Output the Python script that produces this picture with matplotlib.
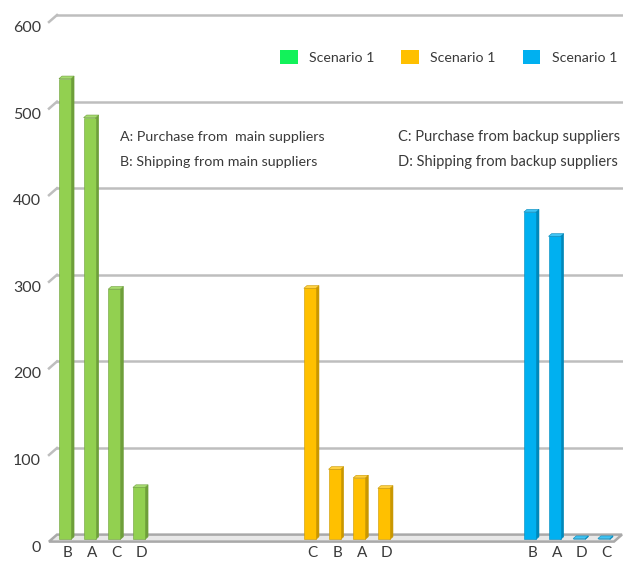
import matplotlib
matplotlib.use("Agg")
import matplotlib.pyplot as plt
from matplotlib.patches import Polygon, Patch
from matplotlib.transforms import ScaledTranslation

plt.rcParams["font.family"] = ["Lato", "DejaVu Sans"]

# data
green_labels = ["B", "A", "C", "D"]
green_values = [532, 487, 289, 60]
yellow_labels = ["C", "B", "A", "D"]
yellow_values = [290, 81, 71, 59]
blue_labels = ["B", "A", "D", "C"]
blue_values = [378, 350, 1, 1]
series_names = ["Scenario 1", "Scenario 1", "Scenario 1"]
y_ticks = [0, 100, 200, 300, 400, 500, 600]
notes_left = ["A: Purchase from  main suppliers", "B: Shipping from main suppliers"]
notes_right = ["C: Purchase from backup suppliers", "D: Shipping from backup suppliers"]

group_start = [0, 9.93, 18.85]
faces = [("#92D050", "#6E9F3A", "#A6DB70"),
         ("#FFC000", "#C99700", "#FFD040"),
         ("#00B0F0", "#0088BA", "#40C4F4")]
legend_colors = ["#12F25A", "#FFC000", "#00B0F0"]
text_color = "#3A3A3A"
grid_color = "#BEBEBE"

W, H, DPI = 623, 562, 100
fig = plt.figure(figsize=(W / DPI, H / DPI), dpi=DPI)
# axes = back wall of the 3d chart
left, right, bottom, top = 57, 622, 534.6, 15
ax = fig.add_axes([left / W, 1 - bottom / H, (right - left) / W, (bottom - top) / H])
x0, x1 = -0.547, 22.36
ax.set_xlim(x0, x1)
ax.set_ylim(0, 600)
ax.axis("off")

# pixel -> data units
px_x = (x1 - x0) / (right - left)
px_y = 600 / (bottom - top)
FX, FY = -8, -7  # depth vector back -> front, pixels


def sh(x, y, t):
    return (x + t * FX * px_x, y + t * FY * px_y)


def off(dx, dy):
    return ax.transData + ScaledTranslation(dx / DPI, dy / DPI, fig.dpi_scale_trans)


# floor
floor = [sh(x0, 0, 0), sh(x1, 0, 0), sh(x1, 0, 1), sh(x0, 0, 1)]
ax.add_patch(Polygon(floor, closed=True, facecolor="#E8E8E8", edgecolor="#A9A9A9",
                     lw=1.8, clip_on=False, zorder=1))

# gridlines + stubs
for v in y_ticks:
    if v > 0:
        ax.plot([x0, x1], [v, v], color=grid_color, lw=1.8, clip_on=False, zorder=1)
        p = sh(x0, v, 1)
        ax.plot([p[0], x0], [p[1], v], color=grid_color, lw=1.8, clip_on=False, zorder=1)
    ax.text(x0, v, str(v), transform=off(-16, -13), ha="right", va="center",
            fontsize=11.5, color=text_color)

# bars
hw = 0.245
tf, tb = 0.69, 0.31
groups = [(green_labels, green_values), (yellow_labels, yellow_values), (blue_labels, blue_values)]
for g, (labels, values) in enumerate(groups):
    front, side, cap = faces[g]
    for i, (lab, v) in enumerate(zip(labels, values)):
        s = group_start[g] + i
        fr = [sh(s - hw, 0, tf), sh(s + hw, 0, tf), sh(s + hw, v, tf), sh(s - hw, v, tf)]
        sd = [sh(s + hw, 0, tf), sh(s + hw, 0, tb), sh(s + hw, v, tb), sh(s + hw, v, tf)]
        tp = [sh(s - hw, v, tf), sh(s + hw, v, tf), sh(s + hw, v, tb), sh(s - hw, v, tb)]
        for pts, col in [(sd, side), (fr, front), (tp, cap)]:
            ax.add_patch(Polygon(pts, closed=True, facecolor=col, edgecolor=side,
                                 lw=0.4, clip_on=False, zorder=3))
        ax.text(s, 0, lab, transform=off(-3, -18.5), ha="center", va="center",
                fontsize=11, color=text_color)

# notes
for k, t in enumerate(notes_left):
    fig.text(120 / W, 1 - (137 + 25 * k) / H, t, ha="left", va="center",
             fontsize=10.3, color=text_color)
for k, t in enumerate(notes_right):
    fig.text(398 / W, 1 - (137 + 25 * k) / H, t, ha="left", va="center",
             fontsize=10.5, color=text_color)

# legend
handles = [Patch(facecolor=c, edgecolor="none") for c in legend_colors]
fig.legend(handles, series_names, loc="center right", ncol=3, frameon=False,
           bbox_to_anchor=(617 / W, 1 - 57 / H), bbox_transform=fig.transFigure,
           borderpad=0, borderaxespad=0, handlelength=1.25, handleheight=1.25,
           handletextpad=0.8, columnspacing=1.9, fontsize=10.2,
           labelcolor=text_color)

fig.savefig("out.png", dpi=DPI)
